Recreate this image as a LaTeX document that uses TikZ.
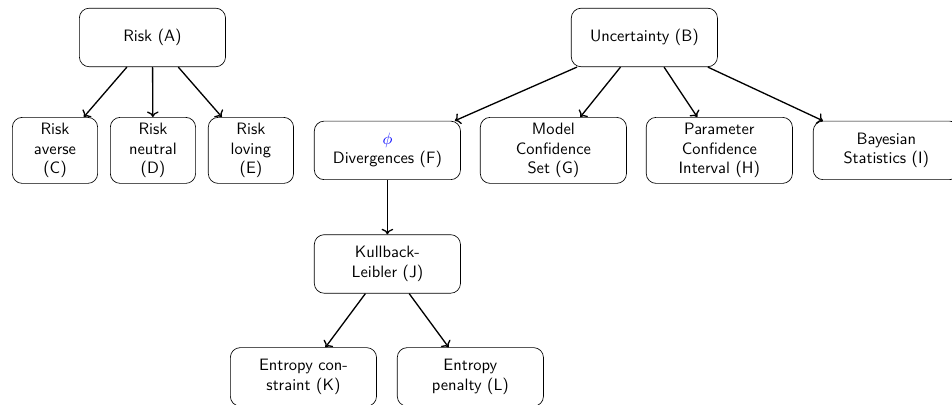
\documentclass[tikz,border=0pt]{standalone}
\usepackage{amsmath}
\usepackage{xcolor}
\usepackage{tikz}
\usetikzlibrary{arrows.meta,positioning}

\begin{document}
\begin{tikzpicture}[
    font=\sffamily,
    concept/.style={draw,rounded corners=6pt,minimum width=3.12cm,minimum height=1.25cm,align=center},
    attitude/.style={draw,rounded corners=6pt,minimum width=1.82cm,minimum height=1.25cm,align=center},
    arr/.style={->,thick}
  ]
    \useasboundingbox (0,0) rectangle (20.32,-8.64);
    % risk branch
    \node[concept] (risk) at (3.254,-0.80) {Risk (A)};
    \node[attitude] (averse) at (1.174,-3.21) {Risk\\averse\\(C)};
    \node[attitude] (neutral) at (3.265,-3.21) {Risk\\neutral\\(D)};
    \node[attitude] (loving) at (5.356,-3.21) {Risk\\loving\\(E)};
    % uncertainty branch
    \node[concept] (unc) at (13.754,-0.80) {Uncertainty (B)};
    \node[concept] (div) at (8.269,-3.21) {{\color{blue}$\phi$}\\Divergences (F)};
    \node[concept] (mcs) at (11.812,-3.21) {Model\\Confidence\\Set (G)};
    \node[concept] (pci) at (15.354,-3.21) {Parameter\\Confidence\\Interval (H)};
    \node[concept] (bayes) at (18.918,-3.21) {Bayesian\\Statistics (I)};
    \node[concept] (kl) at (8.269,-5.634) {Kullback-\\Leibler (J)};
    \node[concept] (econ) at (6.477,-8.045) {Entropy con-\\straint (K)};
    \node[concept] (epen) at (10.04,-8.045) {Entropy\\penalty (L)};
    \foreach \a/\b in {risk/averse,risk/neutral,risk/loving,unc/div,unc/mcs,unc/pci,unc/bayes,div/kl,kl/econ,kl/epen}
      \draw[arr] (\a) -- (\b);
  \end{tikzpicture}
\end{document}
